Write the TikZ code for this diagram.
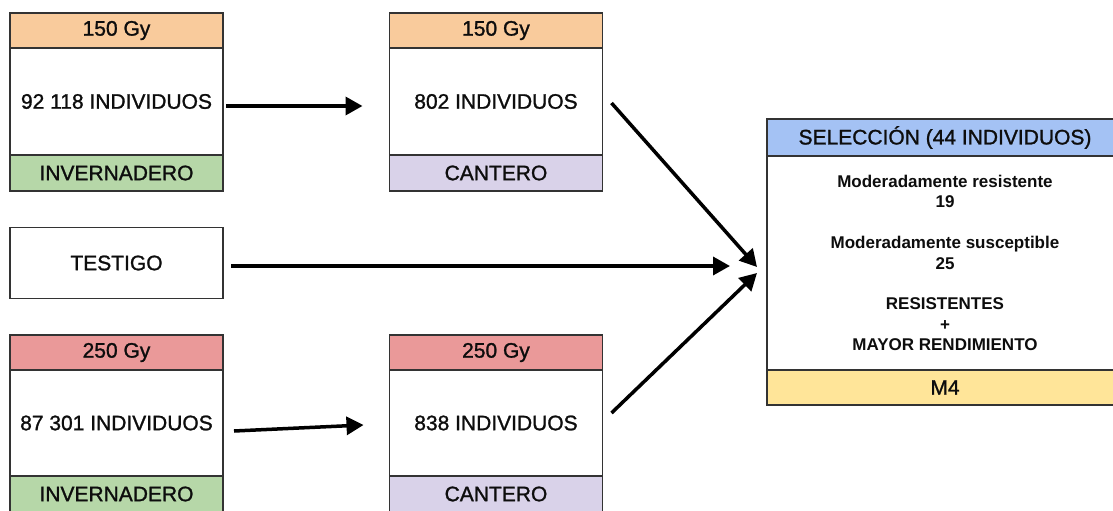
\documentclass[tikz,border=0pt]{standalone}
\usepackage{fontspec}
\setmainfont{Liberation Sans}
\newfontfamily\gruesa[FakeBold=1.2]{Liberation Sans}
\usetikzlibrary{positioning,arrows.meta}
\definecolor{naranja}{HTML}{F9CB9C}
\definecolor{verde}{HTML}{B6D7A8}
\definecolor{lila}{HTML}{D9D2E9}
\definecolor{rojo}{HTML}{EA9999}
\definecolor{azul}{HTML}{A4C2F4}
\definecolor{amarillo}{HTML}{FFE599}
\tikzset{
  caja/.style={rectangle, draw=black!80, line width=1.6pt, outer sep=0pt, inner sep=0pt,
    minimum width=213pt, text=black!95, font=\gruesa\fontsize{21}{25}\selectfont},
  cab/.style={caja, minimum height=35pt},
  cuerpo/.style={caja, minimum height=107pt},
  pie/.style={caja, minimum height=36pt},
  flecha/.style={-{Triangle[length=17pt,width=18pt]}, line width=3.5pt, black}
}
\begin{document}
\begin{tikzpicture}[x=1pt,y=-1pt]
    \useasboundingbox (0,0) rectangle (1113,511);
    % 150 Gy
    \node[cab,fill=naranja] (hd1) at (116.5,30.5) {150 Gy};
    \node[cuerpo] (n1) [below=0pt of hd1] {92 118 INDIVIDUOS};
    \node[pie,fill=verde] (ft1) [below=0pt of n1] {INVERNADERO};
    \node[cab,fill=naranja] (hd2) at (496,30.5) {150 Gy};
    \node[cuerpo] (n2) [below=0pt of hd2] {802 INDIVIDUOS};
    \node[pie,fill=lila] (ft2) [below=0pt of n2] {CANTERO};
    % testigo
    \node[caja,minimum height=71pt] (tst) at (116.5,263) {TESTIGO};
    % 250 Gy
    \node[cab,fill=rojo] (hd3) at (116.5,352.5) {250 Gy};
    \node[cuerpo,minimum height=106pt] (n3) [below=0pt of hd3] {87 301 INDIVIDUOS};
    \node[pie,fill=verde] (ft3) [below=0pt of n3] {INVERNADERO};
    \node[cab,fill=rojo] (hd4) at (496,352.5) {250 Gy};
    \node[cuerpo,minimum height=106pt] (n4) [below=0pt of hd4] {838 INDIVIDUOS};
    \node[pie,fill=lila] (ft4) [below=0pt of n4] {CANTERO};
    % seleccion
    \node[cab,fill=azul,minimum width=356pt,minimum height=37pt] (hdsel) at (945,137.5) {SELECCIÓN (44 INDIVIDUOS)};
    \node[cuerpo,minimum width=356pt,minimum height=214pt,align=center,
      font=\bfseries\fontsize{17}{20.4}\selectfont] (sel) [below=0pt of hdsel]
      {Moderadamente resistente\\19\\[20.4pt]Moderadamente susceptible\\25\\[20.4pt]RESISTENTES\\+\\MAYOR RENDIMIENTO};
    \node[pie,fill=amarillo,minimum width=356pt,minimum height=35pt] (ftsel) [below=0pt of sel] {M4};
    % flechas
    \draw[flecha] ([xshift=3pt,yshift=-4.5pt]n1.east) -- ([xshift=-27pt,yshift=-4.5pt]n2.west);
    \draw[flecha] ([xshift=11pt,yshift=-8pt]n3.east) -- ([xshift=-26pt,yshift=-2pt]n4.west);
    \draw[flecha] ([xshift=8pt,yshift=-3pt]tst.east) -- ([xshift=-37pt,yshift=-3pt]sel.west);
    \draw[flecha] ([xshift=9pt,yshift=-1.5pt]n2.east) -- ([xshift=-10pt,yshift=-4pt]sel.west);
    \draw[flecha] ([xshift=9pt,yshift=10pt]n4.east) -- ([xshift=-10pt,yshift=-10pt]sel.west);
\end{tikzpicture}
\end{document}
